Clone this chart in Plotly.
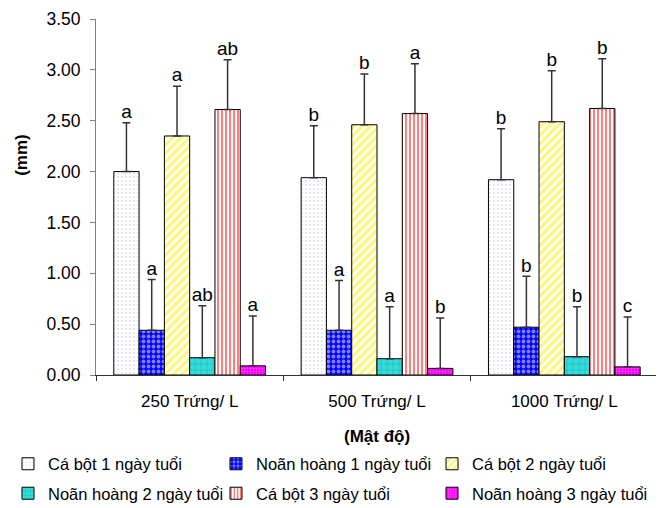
import plotly.graph_objects as go

categories = ["250 Trứng/ L", "500 Trứng/ L", "1000 Trứng/ L"]
series_names = ["Cá bột 1 ngày tuổi", "Noãn hoàng 1 ngày tuổi", "Cá bột 2 ngày tuổi",
                "Noãn hoàng 2 ngày tuổi", "Cá bột 3 ngày tuổi", "Noãn hoàng 3 ngày tuổi"]
ca_bot_1 = [2.00, 1.94, 1.92]
noan_hoang_1 = [0.44, 0.44, 0.47]
ca_bot_2 = [2.35, 2.46, 2.49]
noan_hoang_2 = [0.17, 0.16, 0.18]
ca_bot_3 = [2.61, 2.57, 2.62]
noan_hoang_3 = [0.09, 0.065, 0.08]
sd_1 = [0.48, 0.51, 0.50]
sd_nh1 = [0.50, 0.49, 0.50]
sd_2 = [0.49, 0.50, 0.50]
sd_nh2 = [0.51, 0.51, 0.49]
sd_3 = [0.49, 0.49, 0.49]
sd_nh3 = [0.49, 0.495, 0.49]
letters_1 = ["a", "b", "b"]
letters_nh1 = ["a", "a", "b"]
letters_2 = ["a", "b", "b"]
letters_nh2 = ["ab", "a", "b"]
letters_3 = ["ab", "a", "b"]
letters_nh3 = ["a", "b", "c"]
y_ticks = [0, 0.5, 1.0, 1.5, 2.0, 2.5, 3.0, 3.5]

values = [ca_bot_1, noan_hoang_1, ca_bot_2, noan_hoang_2, ca_bot_3, noan_hoang_3]
sds = [sd_1, sd_nh1, sd_2, sd_nh2, sd_3, sd_nh3]
letters = [letters_1, letters_nh1, letters_2, letters_nh2, letters_3, letters_nh3]

patterns = [
    dict(shape=".", bgcolor="white", fgcolor="#9999ee", size=4, solidity=0.15),
    dict(shape=".", bgcolor="#0000ff", fgcolor="white", size=5, solidity=0.45),
    dict(shape="/", bgcolor="white", fgcolor="#ffee00", size=6, solidity=0.55),
    dict(shape="+", bgcolor="#33dddd", fgcolor="#007777", size=6, solidity=0.15),
    dict(shape="|", bgcolor="white", fgcolor="#ff0000", size=4, solidity=0.5),
    dict(shape=".", bgcolor="#ff00ff", fgcolor="#ff99ff", size=3, solidity=0.3),
]
legend_ids = ["legend", "legend2", "legend3", "legend", "legend2", "legend3"]

FONT = "Liberation Sans, Arial, sans-serif"
fig = go.Figure()
for i, (name, v, s, p) in enumerate(zip(series_names, values, sds, patterns)):
    fig.add_trace(go.Bar(
        x=categories, y=v, name=name, legend=legend_ids[i], legendgroup="g%d" % i,
        marker=dict(color=p["bgcolor"], pattern=p, line=dict(color="black", width=1)),
        error_y=dict(type="data", symmetric=False, array=s, arrayminus=[0] * len(s),
                     color="#333333", thickness=1.5, width=4),
    ))
for v, s, l in zip(values, sds, letters):
    fig.add_trace(go.Scatter(
        x=categories, y=[a + b for a, b in zip(v, s)], mode="text", text=l,
        textposition="top center", textfont=dict(size=19, color="black", family=FONT),
        showlegend=False, hoverinfo="skip",
    ))

leg_common = dict(orientation="v", xanchor="left", yanchor="top", y=-0.201,
                  font=dict(size=16.5), tracegroupgap=5, itemwidth=30,
                  bgcolor="rgba(0,0,0,0)", borderwidth=0)
fig.update_layout(
    width=656, height=500,
    margin=dict(l=88, r=6, t=11, b=133, autoexpand=False),
    paper_bgcolor="white", plot_bgcolor="white",
    barmode="group", bargap=0.19, bargroupgap=0, scattermode="group",
    font=dict(family=FONT, size=17, color="black"),
    showlegend=True,
    legend=dict(x=-0.1566, **leg_common),
    legend2=dict(x=0.2135, **leg_common),
    legend3=dict(x=0.5979, **leg_common),
    annotations=[
        dict(text="<b>(mm)</b>", xref="paper", yref="paper", x=-0.132, y=0.618,
             xanchor="center", yanchor="middle",
             textangle=-90, showarrow=False, font=dict(size=17)),
        dict(text="<b>(Mật độ)</b>", xref="paper", yref="paper", x=0.5, y=-0.174,
             xanchor="center", yanchor="middle",
             showarrow=False, font=dict(size=17)),
    ],
)
fig.update_yaxes(range=[0, 3.5], tickvals=y_ticks, tickformat=".2f", showgrid=False,
                 zeroline=False, showline=True, linecolor="#808080", linewidth=1,
                 ticks="outside", ticklen=5, tickcolor="#808080", tickfont=dict(size=17.5),
                 ticklabelstandoff=6, ticklabeloverflow="allow")
fig.update_xaxes(type="category", showgrid=False, showline=True, linecolor="#333333",
                 linewidth=1, ticks="outside", tickson="boundaries", ticklen=5,
                 tickcolor="#333333", tickfont=dict(size=17), ticklabelstandoff=11)

fig.write_html("out.html")
